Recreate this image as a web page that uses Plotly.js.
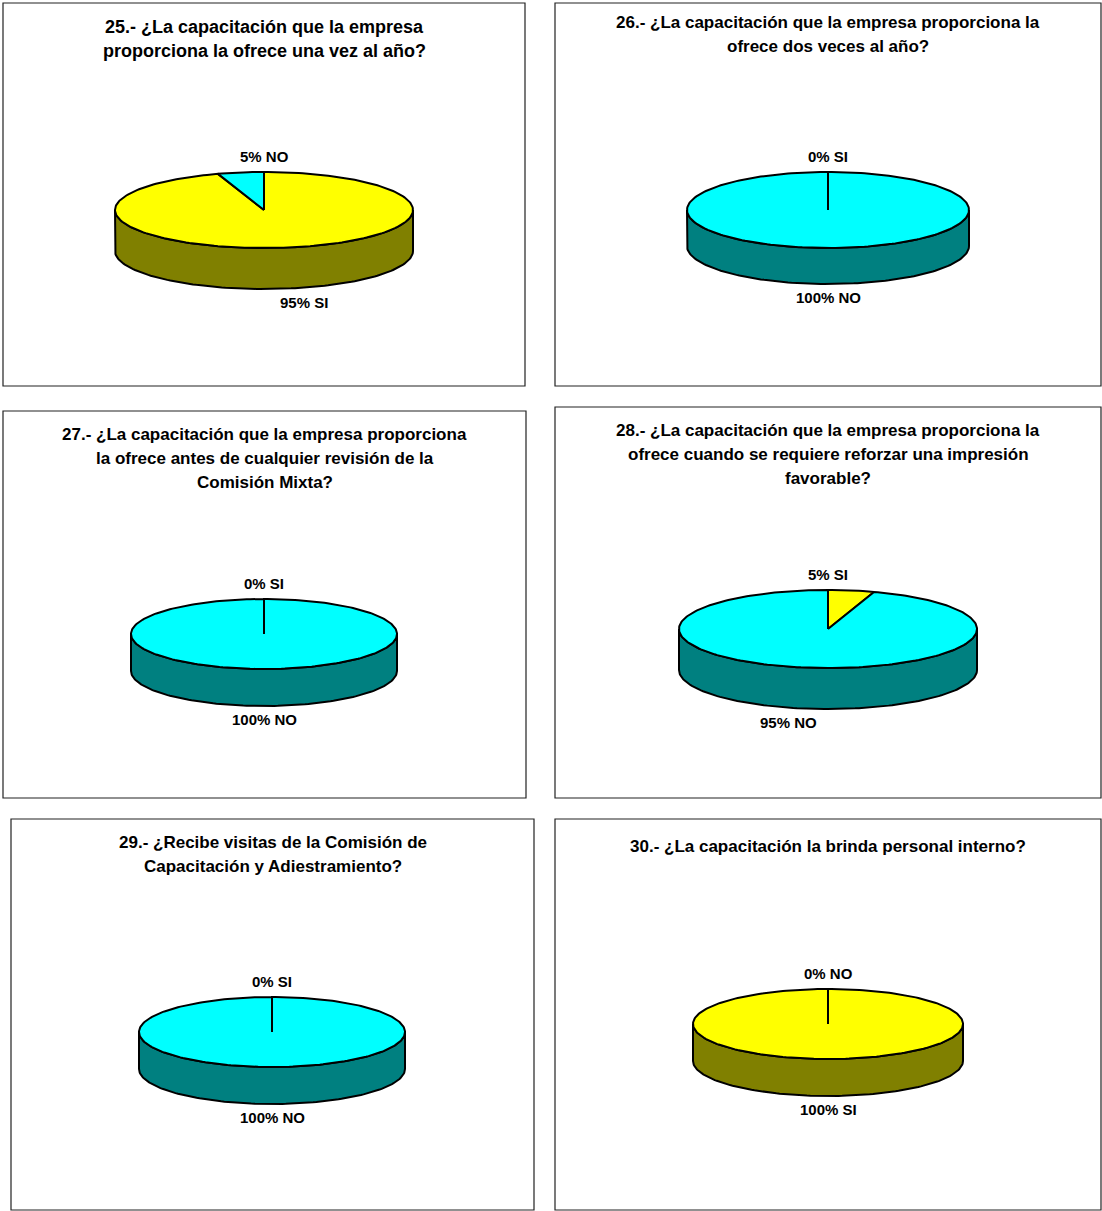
<!DOCTYPE html>
<html>
<head>
<meta charset="utf-8">
<script src="https://cdn.plot.ly/plotly-3.0.1.min.js"></script>
<style>html,body{margin:0;padding:0;background:#fff;}#chart{width:1102px;height:1211px;}</style>
</head>
<body>
<div id="chart"></div>
<script>
// ---- data ----
const categories = ['SI', 'NO'];
const siPct = [95, 0, 0, 5, 0, 100];
const noPct = [5, 100, 100, 95, 100, 0];
const titles = [
  ['25.- ¿La capacitación que la empresa', 'proporciona la ofrece una vez al año?'],
  ['26.- ¿La capacitación que la empresa proporciona la', 'ofrece dos veces al año?'],
  ['27.- ¿La capacitación que la empresa proporciona', 'la ofrece antes de cualquier revisión de la', 'Comisión Mixta?'],
  ['28.- ¿La capacitación que la empresa proporciona la', 'ofrece cuando se requiere reforzar una impresión', 'favorable?'],
  ['29.- ¿Recibe visitas de la Comisión de', 'Capacitación y Adiestramiento?'],
  ['30.- ¿La capacitación la brinda personal interno?']
];

// ---- layout / style ----
const topColors = {SI: '#FFFF00', NO: '#00FFFF'};
const sideColors = {SI: '#808000', NO: '#008080'};
const panels = [
  {x0: 3, y0: 3, x1: 525, y1: 386, cx: 264, cy: 210, rx: 149, ry: 38, depth: 41, ty: 27, ts: 18},
  {x0: 555, y0: 3, x1: 1101, y1: 386, cx: 828, cy: 210, rx: 141, ry: 38, depth: 36, ty: 22, ts: 17},
  {x0: 3, y0: 411, x1: 526, y1: 798, cx: 264, cy: 634, rx: 133, ry: 35, depth: 37, ty: 434, ts: 17},
  {x0: 555, y0: 407, x1: 1101, y1: 798, cx: 828, cy: 629, rx: 149, ry: 39, depth: 41, ty: 430, ts: 17},
  {x0: 11, y0: 819, x1: 534, y1: 1210, cx: 272, cy: 1032, rx: 133, ry: 35, depth: 37, ty: 842, ts: 17},
  {x0: 555, y0: 819, x1: 1101, y1: 1210, cx: 828, cy: 1024, rx: 135, ry: 35, depth: 37, ty: 846, ts: 17}
];
const FONT = 'Liberation Sans, Arial, Helvetica, sans-serif';

const sideTraces = [];
const topTraces = [];
const annotations = [];
const shapes = [];

function pt(p, th, dy) {
  return [p.cx + p.rx * Math.sin(th), p.cy - p.ry * Math.cos(th) + (dy || 0)];
}
function arc(p, a, b, dy) {
  const n = Math.max(2, Math.ceil(Math.abs(b - a) / (2 * Math.PI) * 240));
  const out = [];
  for (let k = 0; k <= n; k++) out.push(pt(p, a + (b - a) * k / n, dy));
  return out;
}
function poly(points, fill) {
  return {
    type: 'scatter', mode: 'lines', fill: 'toself', fillcolor: fill,
    x: points.map(q => q[0]), y: points.map(q => q[1]),
    line: {color: '#000', width: 2}, hoverinfo: 'skip', showlegend: false
  };
}

panels.forEach((p, i) => {
  shapes.push({type: 'rect', xref: 'x', yref: 'y', x0: p.x0, y0: p.y0, x1: p.x1, y1: p.y1,
    line: {color: '#222', width: 1.2}, fillcolor: 'rgba(0,0,0,0)'});
  titles[i].forEach((t, j) => {
    annotations.push({x: (p.x0 + p.x1) / 2, y: p.ty + j * 24, xref: 'x', yref: 'y',
      text: t, showarrow: false, xanchor: 'center', yanchor: 'middle',
      font: {family: FONT, size: p.ts, color: '#000', weight: 'bold'}});
  });
  const vals = [siPct[i], noPct[i]];
  const total = vals[0] + vals[1];
  let start = 0;
  vals.forEach((v, s) => {
    const cat = categories[s];
    const end = start + v / total * 2 * Math.PI;
    const a = Math.max(start, Math.PI / 2), b = Math.min(end, 3 * Math.PI / 2);
    if (b > a) {
      const pts = arc(p, a, b, 0).concat(arc(p, b, a, p.depth));
      pts.push(pts[0]);
      sideTraces.push(poly(pts, sideColors[cat]));
    }
    if (v > 0) {
      const pts = [[p.cx, p.cy]].concat(arc(p, start, end, 0));
      pts.push([p.cx, p.cy]);
      topTraces.push(poly(pts, topColors[cat]));
    }
    const mid = (start + end) / 2;
    let lx, ly;
    if (Math.cos(mid) > 0) {
      lx = p.cx; ly = p.cy - p.ry - 16;
    } else {
      lx = p.cx + 1.7 * p.rx * Math.sin(mid); ly = p.cy + p.ry + p.depth + 13;
    }
    annotations.push({x: lx, y: ly, xref: 'x', yref: 'y', text: v + '% ' + cat, showarrow: false,
      xanchor: 'center', yanchor: 'middle', font: {family: FONT, size: 15, color: '#000', weight: 'bold'}});
    start = end;
  });
});

const layout = {
  width: 1102, height: 1211,
  margin: {l: 0, r: 0, t: 0, b: 0, pad: 0},
  paper_bgcolor: '#fff', plot_bgcolor: '#fff',
  xaxis: {range: [0, 1102], visible: false, fixedrange: true},
  yaxis: {range: [1211, 0], visible: false, fixedrange: true},
  shapes: shapes, annotations: annotations, showlegend: false
};
Plotly.newPlot('chart', sideTraces.concat(topTraces), layout, {displayModeBar: false, staticPlot: true});
</script>
</body>
</html>
